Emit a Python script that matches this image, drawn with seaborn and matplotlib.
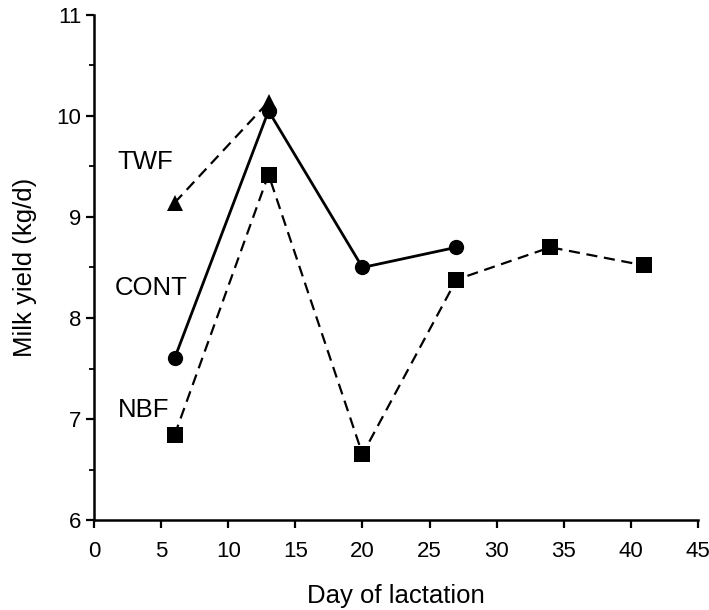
import numpy as np
import pandas as pd
import seaborn as sns
import matplotlib.pyplot as plt

# values
twf_day = [6, 13]
twf_yield = [9.14, 10.14]
cont_day = [6, 13, 20, 27]
cont_yield = [7.60, 10.05, 8.50, 8.70]
nbf_day = [6, 13, 20, 27, 34, 41]
nbf_yield = [6.84, 9.42, 6.65, 8.38, 8.70, 8.52]

sns.set_style('ticks')
plt.rcParams['font.family'] = ['Liberation Sans', 'DejaVu Sans']
plt.rcParams['text.color'] = 'black'
plt.rcParams['axes.labelcolor'] = 'black'

fig = plt.figure(figsize=(7.09, 6.10), dpi=100)
ax = fig.add_axes([0.1326, 0.1475, 0.852, 0.828])

dash = (0, (5, 3))
sns.lineplot(x=twf_day, y=twf_yield, ax=ax, color='black', linestyle=dash,
             linewidth=1.6, marker='^', markersize=12, markeredgewidth=0)
sns.lineplot(x=cont_day, y=cont_yield, ax=ax, color='black', linestyle='-',
             linewidth=2.0, marker='o', markersize=11, markeredgewidth=0)
sns.lineplot(x=nbf_day, y=nbf_yield, ax=ax, color='black', linestyle=dash,
             linewidth=1.6, marker='s', markersize=11, markeredgewidth=0)

ax.text(1.75, 9.54, 'TWF', fontsize=18.5, va='center', ha='left')
ax.text(1.55, 8.30, 'CONT', fontsize=18.5, va='center', ha='left')
ax.text(1.75, 7.09, 'NBF', fontsize=18.5, va='center', ha='left')

ax.set_xlim(0, 45)
ax.set_ylim(6, 11)
ax.set_xticks(np.arange(0, 46, 5))
ax.set_yticks(np.arange(6, 12, 1))
ax.set_yticks(np.arange(6.5, 11, 1), minor=True)
ax.tick_params(axis='both', which='major', labelsize=16, length=6, width=1.6,
               color='black', labelcolor='black')
ax.tick_params(axis='x', which='major', pad=9)
ax.tick_params(axis='y', which='major', pad=3)
ax.tick_params(axis='y', which='minor', length=3.5, width=1.3, color='black')
ax.set_xlabel('Day of lactation', fontsize=18.5, labelpad=16)
ax.set_ylabel('Milk yield (kg/d)', fontsize=18.5, labelpad=14)
for s in ['left', 'bottom']:
    ax.spines[s].set_linewidth(1.8)
    ax.spines[s].set_color('black')
sns.despine(ax=ax)

fig.savefig('out.png', dpi=100)
